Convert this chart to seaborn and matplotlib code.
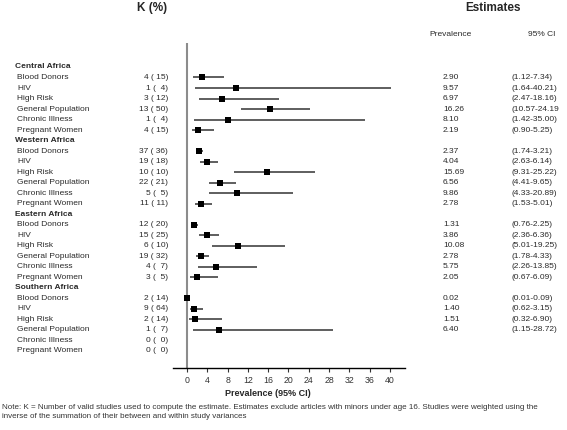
import numpy as np
import pandas as pd
import seaborn as sns
from matplotlib import pyplot as plt
from matplotlib import transforms

# data
regions = ['Central Africa', 'Western Africa', 'Eastern Africa', 'Southern Africa']
groups = ['Blood Donors', 'HIV', 'High Risk', 'General Population', 'Chronic Illness', 'Pregnant Women']

k_studies = [[4, 1, 3, 13, 1, 4],
             [37, 19, 10, 22, 5, 11],
             [12, 15, 6, 19, 4, 3],
             [2, 9, 2, 1, 0, 0]]
k_pct = [[15, 4, 12, 50, 4, 15],
         [36, 18, 10, 21, 5, 11],
         [20, 25, 10, 32, 7, 5],
         [14, 64, 14, 7, 0, 0]]
prevalence = [[2.90, 9.57, 6.97, 16.26, 8.10, 2.19],
              [2.37, 4.04, 15.69, 6.56, 9.86, 2.78],
              [1.31, 3.86, 10.08, 2.78, 5.75, 2.05],
              [0.02, 1.40, 1.51, 6.40, np.nan, np.nan]]
ci_low = [[1.12, 1.64, 2.47, 10.57, 1.42, 0.90],
          [1.74, 2.63, 9.31, 4.41, 4.33, 1.53],
          [0.76, 2.36, 5.01, 1.78, 2.26, 0.67],
          [0.01, 0.62, 0.32, 1.15, np.nan, np.nan]]
ci_high = [[7.34, 40.21, 18.16, 24.19, 35.00, 5.25],
           [3.21, 6.14, 25.22, 9.65, 20.89, 5.01],
           [2.25, 6.36, 19.25, 4.33, 13.85, 6.09],
           [0.09, 3.15, 6.90, 28.72, np.nan, np.nan]]
# one CI label is cut off in the source
ci_text_fix = {(0, 3): '(10.57-24.19'}

rows = []
pos = 0
for r, reg in enumerate(regions):
    rows.append(dict(row=pos, label=reg, header=True))
    pos += 1
    for g, grp in enumerate(groups):
        rows.append(dict(row=pos, label=grp, header=False,
                         k=k_studies[r][g], kp=k_pct[r][g],
                         prev=prevalence[r][g], lo=ci_low[r][g], hi=ci_high[r][g],
                         ci=ci_text_fix.get((r, g))))
        pos += 1
df = pd.DataFrame(rows)

sns.set_style('white')
plt.rcParams['font.family'] = ['Liberation Sans', 'DejaVu Sans']

W, H = 567, 430
fig = plt.figure(figsize=(W / 100, H / 100), dpi=100)
x0, x1 = 173, 405
y_top, y_bot = 43, 368
ax = fig.add_axes([x0 / W, 1 - y_bot / H, (x1 - x0) / W, (y_bot - y_top) / H])

est = df.dropna(subset=['prev'])
ax.hlines(est['row'], est['lo'], est['hi'], color='#333333', lw=1.1, zorder=2)
sns.scatterplot(data=est, x='prev', y='row', marker='s', color='black',
                s=16, linewidth=0, ax=ax, zorder=3)
ax.axvline(0, color='#8c8c8c', lw=1.5, zorder=1)

ax.set_xlim(-2.75, 42.95)
ax.set_ylim(27 + 1.62, -2.28)
ax.set_xticks(np.arange(0, 41, 4))
ax.set_yticks([])
ax.set_xlabel('')
ax.set_ylabel('')
ax.tick_params(axis='x', labelsize=6.3, colors='#333333', length=3, width=0.8,
               direction='out', pad=3, bottom=True)
for s in ['top', 'right', 'left']:
    ax.spines[s].set_visible(False)
ax.spines['bottom'].set_color('black')
ax.spines['bottom'].set_linewidth(1.0)

# text columns: x in figure fraction, y in data rows
tr = transforms.blended_transform_factory(fig.transFigure, ax.transData)
txt = dict(fontsize=6.0, color='#2a2a2a', va='center', transform=tr, clip_on=False)
for _, d in df.iterrows():
    if d['header']:
        ax.text(15 / W, d['row'], d['label'], fontweight='bold', **txt)
        continue
    ax.text(17 / W, d['row'], d['label'], **txt)
    ax.text(168 / W, d['row'], f"{int(d['k'])} ({int(d['kp']):>3})", ha='right', **txt)
    if not np.isnan(d['prev']):
        ax.text(443 / W, d['row'], f"{d['prev']:.2f}", **txt)
        ci = d['ci'] if isinstance(d['ci'], str) else f"({d['lo']:.2f}-{d['hi']:.2f})"
        ax.text(512 / W, d['row'], ci, **txt)

fig.text(152 / W, 1 - 8 / H, 'K (%)', fontsize=8.5, fontweight='bold', ha='center', va='center')
fig.text(493 / W, 1 - 8 / H, 'Estimates', fontsize=8.5, fontweight='bold', ha='center', va='center')
fig.text(450 / W, 1 - 34 / H, 'Prevalence', fontsize=6.0, color='#2a2a2a', ha='center', va='center')
fig.text(542 / W, 1 - 34 / H, '95% CI', fontsize=6.0, color='#2a2a2a', ha='center', va='center')
fig.text(268 / W, 1 - 394 / H, 'Prevalence (95% CI)', fontsize=6.5, fontweight='bold',
         ha='center', va='center')
fig.text(2 / W, 1 - 412 / H,
         'Note: K = Number of valid studies used to compute the estimate. Estimates exclude articles '
         'with minors under age 16. Studies were weighted using the\n'
         'inverse of the summation of their between and within study variances',
         fontsize=5.8, color='#333333', ha='left', va='center', linespacing=1.25)

fig.savefig('out.png', dpi=100)
